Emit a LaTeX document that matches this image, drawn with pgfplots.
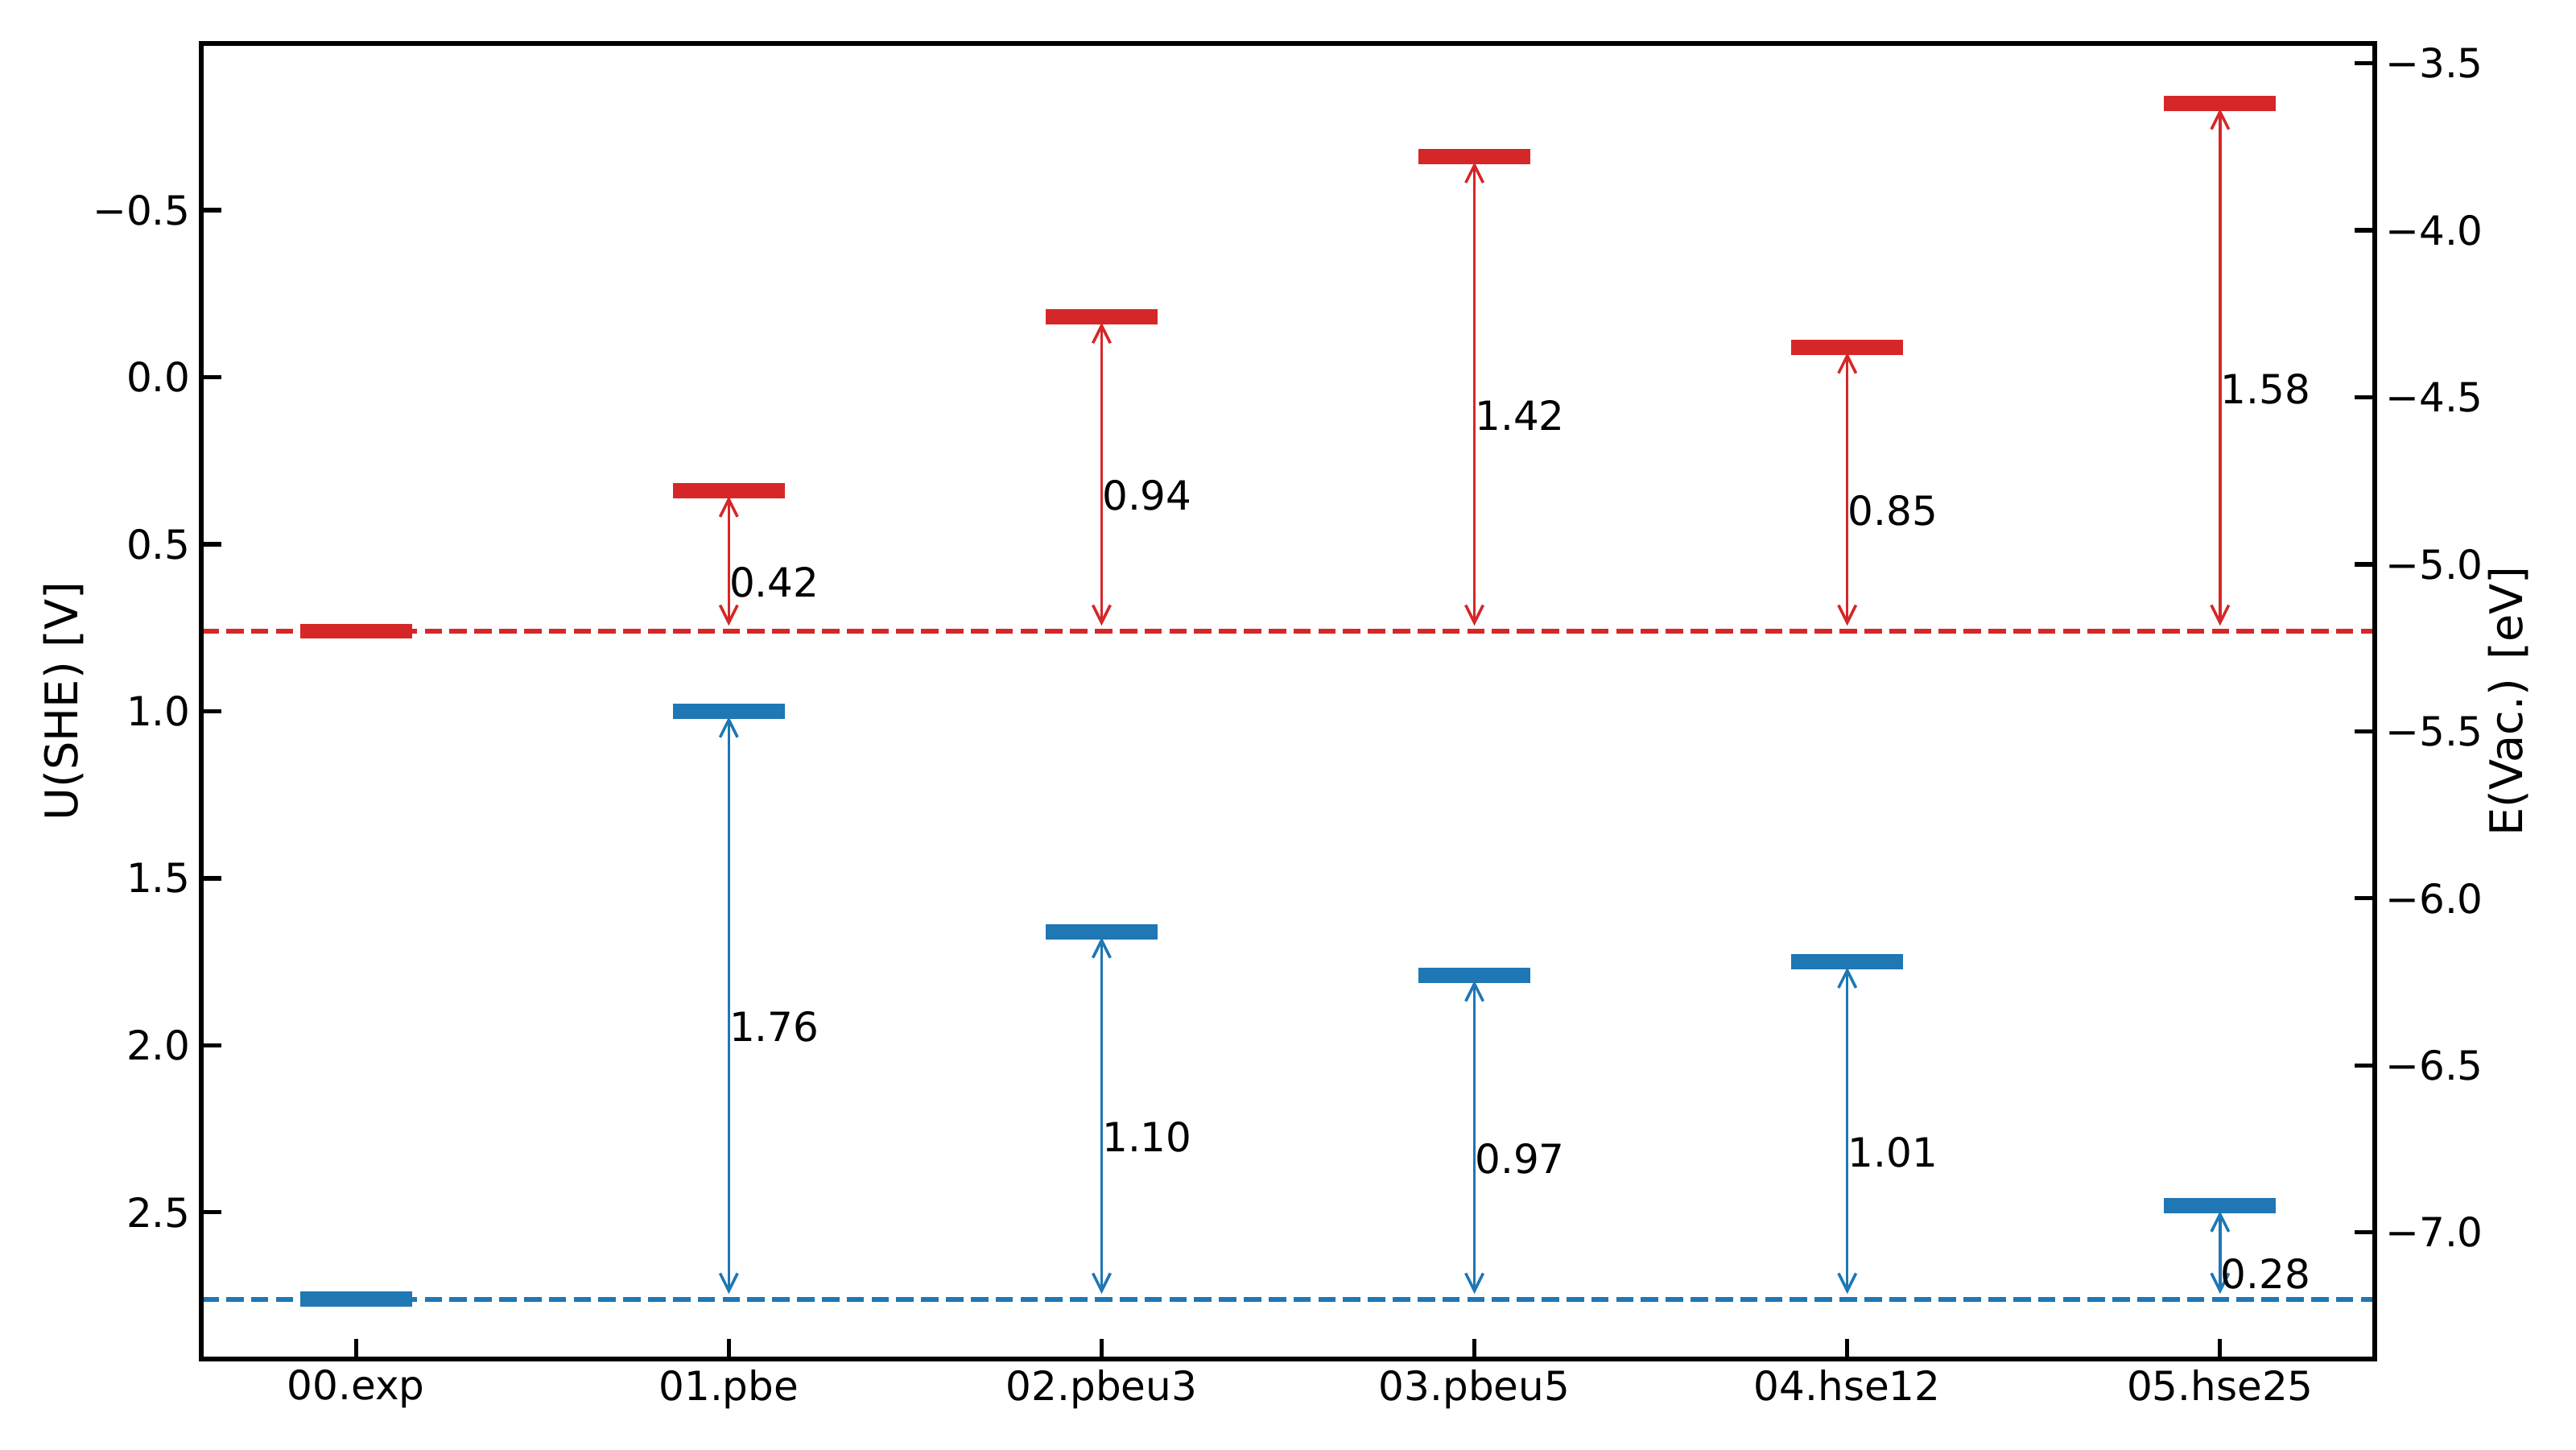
\documentclass[border=0pt]{standalone}
\usepackage{fontspec}
\setmainfont{DejaVu Sans}
\usepackage{pgfplots}
\pgfplotsset{compat=1.18}
\usetikzlibrary{arrows.meta}

\definecolor{tabred}{HTML}{D62728}
\definecolor{tabblue}{HTML}{1F77B4}

\pgfplotsset{
  levels/.style={
    scale only axis, width=648pt, height=392.16pt,
    at={(60pt,26.88pt)}, anchor=south west,
    xmin=-0.415, xmax=5.415, ymin=-0.999, ymax=2.939, y dir=reverse,
    tick align=inside, major tick length=6pt,
    axis line style={line width=1.25pt},
    major tick style={black, line width=1.25pt},
    minor tick num=0,
    ticklabel style={font=\fontsize{12}{14}\selectfont, inner sep=3pt},
  },
  gap/.style={line width=0.85pt, >={Straight Barb[length=5.2pt,width=5.2pt]}, <->,
    shorten <=1.6pt, shorten >=1.6pt, forget plot},
  lvl/.style={line width=4.5pt, unbounded coords=jump, forget plot},
  ref/.style={line width=1.4pt, dash pattern=on 5.2pt off 2.2pt, forget plot},
}
\newcommand{\val}[3]{\node[anchor=north west, inner sep=0pt, yshift=-1.7pt,
  font=\fontsize{12}{14}\selectfont] at (axis cs:#1,#2) {#3};}

\begin{document}
\begin{tikzpicture}
\path[use as bounding box] (0,0) rectangle (768pt,432pt);

\begin{axis}[levels,
  xtick={0,1,2,3,4,5},
  xticklabels={00.exp,01.pbe,02.pbeu3,03.pbeu5,04.hse12,05.hse25},
  xtick pos=left,
  ytick={-0.5,0,0.5,1,1.5,2,2.5},
  yticklabels={−0.5,0.0,0.5,1.0,1.5,2.0,2.5},
  ytick pos=left,
  ylabel={U(SHE) [V]},
  every axis y label/.style={at={(axis description cs:-0.0567,0.5)},
    rotate=90, anchor=base, font=\fontsize{13.4}{16}\selectfont},
]
% reference levels (experiment)
\addplot[tabred, ref] coordinates {(-0.415,0.76) (5.415,0.76)};
\addplot[tabblue, ref] coordinates {(-0.415,2.76) (5.415,2.76)};

% conduction band levels
\addplot[tabred, lvl] coordinates {
  (-0.15,0.76) (0.15,0.76) (0.5,nan)
  (0.85,0.34) (1.15,0.34) (1.5,nan)
  (1.85,-0.18) (2.15,-0.18) (2.5,nan)
  (2.85,-0.66) (3.15,-0.66) (3.5,nan)
  (3.85,-0.09) (4.15,-0.09) (4.5,nan)
  (4.85,-0.82) (5.15,-0.82)
};
% valence band levels
\addplot[tabblue, lvl] coordinates {
  (-0.15,2.76) (0.15,2.76) (0.5,nan)
  (0.85,1.00) (1.15,1.00) (1.5,nan)
  (1.85,1.66) (2.15,1.66) (2.5,nan)
  (2.85,1.79) (3.15,1.79) (3.5,nan)
  (3.85,1.75) (4.15,1.75) (4.5,nan)
  (4.85,2.48) (5.15,2.48)
};

% offsets to experiment
\addplot[tabred, gap] coordinates {(1,0.34) (1,0.76)};
\addplot[tabred, gap] coordinates {(2,-0.18) (2,0.76)};
\addplot[tabred, gap] coordinates {(3,-0.66) (3,0.76)};
\addplot[tabred, gap] coordinates {(4,-0.09) (4,0.76)};
\addplot[tabred, gap] coordinates {(5,-0.82) (5,0.76)};
\addplot[tabblue, gap] coordinates {(1,1.00) (1,2.76)};
\addplot[tabblue, gap] coordinates {(2,1.66) (2,2.76)};
\addplot[tabblue, gap] coordinates {(3,1.79) (3,2.76)};
\addplot[tabblue, gap] coordinates {(4,1.75) (4,2.76)};
\addplot[tabblue, gap] coordinates {(5,2.48) (5,2.76)};

\val{1}{0.55}{0.42}
\val{2}{0.29}{0.94}
\val{3}{0.05}{1.42}
\val{4}{0.335}{0.85}
\val{5}{-0.03}{1.58}
\val{1}{1.88}{1.76}
\val{2}{2.21}{1.10}
\val{3}{2.275}{0.97}
\val{4}{2.255}{1.01}
\val{5}{2.62}{0.28}
\end{axis}

% right axis: E(Vac.) = -4.44 - U(SHE)
\begin{axis}[levels,
  xtick=\empty,
  ytick={-0.94,-0.44,0.06,0.56,1.06,1.56,2.06,2.56},
  yticklabels={−3.5,−4.0,−4.5,−5.0,−5.5,−6.0,−6.5,−7.0},
  ytick pos=right, yticklabel pos=right,
  ylabel={E(Vac.) [eV]},
  every axis y label/.style={at={(axis description cs:1.0678,0.5)},
    rotate=90, anchor=base, font=\fontsize{13.4}{16}\selectfont},
]
\end{axis}
\end{tikzpicture}
\end{document}
